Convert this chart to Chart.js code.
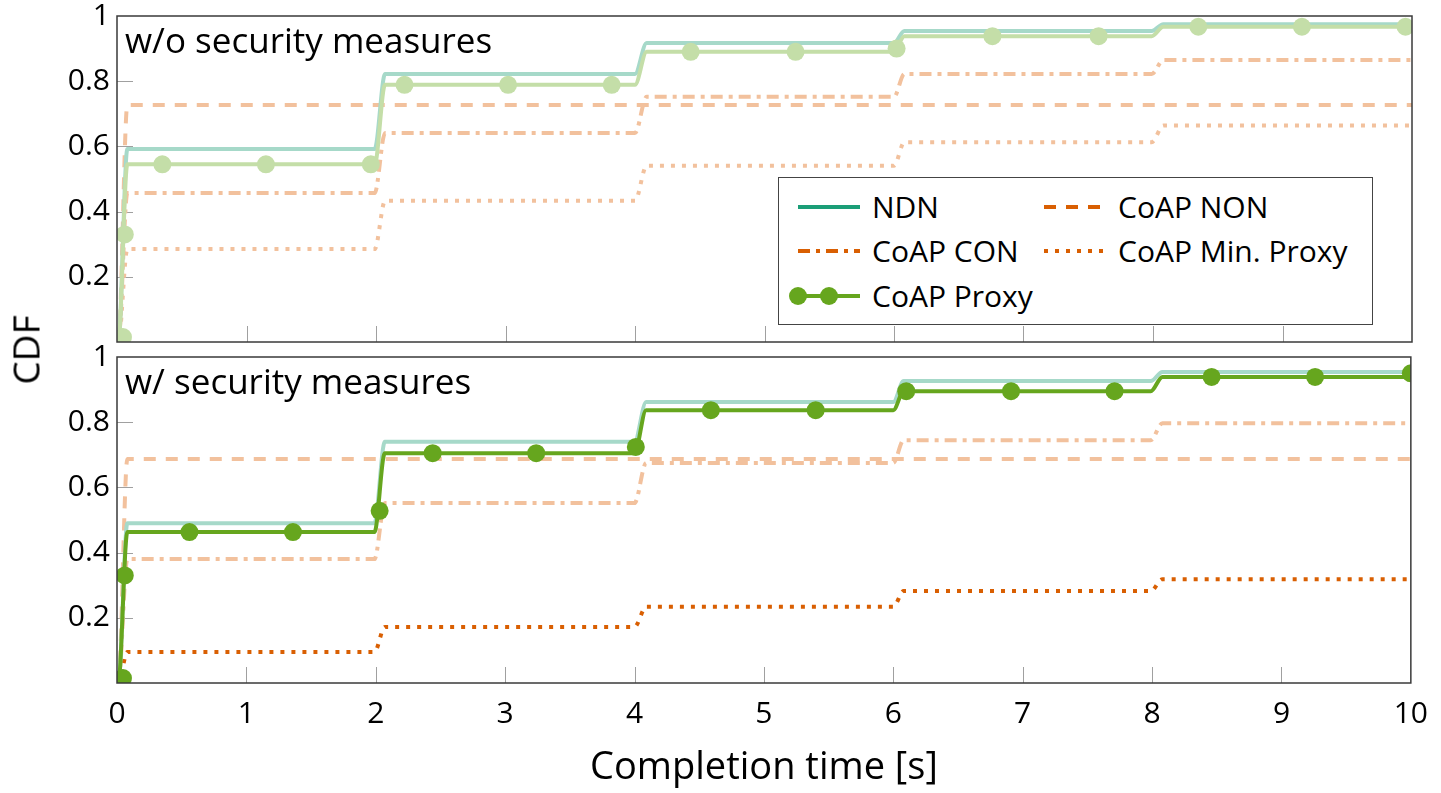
<!DOCTYPE html>
<html>
<head>
<meta charset="utf-8">
<script src="https://cdn.jsdelivr.net/npm/chart.js@4.4.1/dist/chart.umd.min.js"></script>
<style>
  html, body { margin: 0; padding: 0; background: #fff; }
  body { width: 1441px; height: 793px; position: relative; overflow: hidden; font-family: "Open Sans", sans-serif; color: #000; }
  canvas { position: absolute; left: 0; }
  #topChart { top: -20px; }
  #bottomChart { top: 320px; }
  .note { position: absolute; left: 125px; font-size: 35px; line-height: 35px; white-space: nowrap; z-index: 2; }
  #ylab { position: absolute; left: 25px; top: 350px; transform: translate(-50%, -50%) rotate(-90deg); font-size: 37px; z-index: 2; }
  #legend { position: absolute; left: 778px; top: 177px; width: 595px; height: 148px; border: 1.5px solid #444; background: #fff; box-sizing: border-box; z-index: 2; }
  .item { position: absolute; display: flex; align-items: center; font-size: 30px; line-height: 40px; white-space: nowrap; transform: translateY(-50%); }
  .item svg { margin-right: 12px; overflow: visible; }
</style>
</head>
<body>
<canvas id="topChart" width="1441" height="392"></canvas>
<canvas id="bottomChart" width="1441" height="473"></canvas>
<div class="note" style="top:22px">w/o security measures</div>
<div class="note" style="top:363px">w/ security measures</div>
<div id="ylab">CDF</div>
<div id="legend"></div>
<script>
// axis ticks
const xTicks = [0, 1, 2, 3, 4, 5, 6, 7, 8, 9, 10];
const yTicks = [0.2, 0.4, 0.6, 0.8, 1];

// where each step of the CDFs starts and ends (seconds)
const stepStart = [0.01, 1.99, 4.0, 6.0, 7.99];
const stepEnd = [0.08, 2.07, 4.09, 6.08, 8.08];

// w/o security measures: level after each step
const topNdn = [0.592, 0.822, 0.917, 0.954, 0.975];
const topNon = [0.727, 0.727, 0.727, 0.727, 0.727];
const topCon = [0.457, 0.641, 0.752, 0.822, 0.865];
const topMinProxy = [0.285, 0.433, 0.541, 0.613, 0.664];
const topProxy = [0.545, 0.789, 0.89, 0.938, 0.967];
const topProxyMarkX = [0.046, 0.06, 0.35, 1.15, 1.96, 2.22, 3.02, 3.82, 4.43, 5.24, 6.02, 6.76, 7.58, 8.35, 9.15, 9.95];
const topProxyMarkY = [0.015, 0.33, 0.545, 0.545, 0.545, 0.789, 0.789, 0.789, 0.89, 0.89, 0.9, 0.938, 0.938, 0.967, 0.967, 0.967];

// w/ security measures
const botNdn = [0.49, 0.74, 0.862, 0.926, 0.954];
const botNon = [0.687, 0.687, 0.687, 0.687, 0.687];
const botCon = [0.38, 0.552, 0.675, 0.745, 0.797];
const botMinProxy = [0.095, 0.172, 0.234, 0.282, 0.318];
const botProxy = [0.463, 0.705, 0.837, 0.895, 0.939];
const botProxyMarkX = [0.046, 0.06, 0.56, 1.36, 2.03, 2.44, 3.24, 4.01, 4.59, 5.4, 6.1, 6.91, 7.71, 8.46, 9.26, 10.0];
const botProxyMarkY = [0.015, 0.33, 0.463, 0.463, 0.528, 0.705, 0.705, 0.724, 0.837, 0.837, 0.895, 0.895, 0.895, 0.939, 0.939, 0.95];

// colours: full and faded
const teal = '#1b9e77', orange = '#d95f02', green = '#66a61e';
const tealPale = '#a6d9c9', orangePale = '#f2c19d', greenPale = '#c4dea8';
const dashed = [12, 10], dashDot = [12, 6, 4, 6], dotted = [4, 7];

Chart.defaults.font.family = '"Open Sans", sans-serif';
Chart.defaults.color = '#000';

// turn a list of levels into the vertices of a step curve
function steps(levels) {
    const pts = [{ x: 0, y: 0 }];
    levels.forEach((v, i) => {
        pts.push({ x: stepStart[i], y: i ? levels[i - 1] : 0 });
        pts.push({ x: stepEnd[i], y: v });
    });
    pts.push({ x: 10, y: levels[levels.length - 1] });
    return pts;
}

function lineSet(levels, color, dash, order) {
    return {
        data: steps(levels), showLine: true, borderColor: color, borderWidth: 4,
        borderDash: dash, pointRadius: 0, cubicInterpolationMode: 'monotone',
        fill: false, order: order, clip: 0
    };
}

function markSet(xs, ys, color, order) {
    return {
        data: xs.map((x, i) => ({ x: x, y: ys[i] })), showLine: false,
        backgroundColor: color, borderWidth: 0, pointRadius: 9, order: order, clip: 0
    };
}

// inner ticks and the box around the plot
const framePlugin = {
    id: 'frame',
    beforeDatasetsDraw(chart) {
        const { ctx, chartArea: a, scales: { x, y } } = chart;
        ctx.save();
        ctx.strokeStyle = '#a0a0a0';
        ctx.lineWidth = 1;
        ctx.beginPath();
        xTicks.slice(1, -1).forEach(v => {
            const px = Math.round(x.getPixelForValue(v)) + 0.5;
            ctx.moveTo(px, a.bottom);
            ctx.lineTo(px, a.bottom - 16);
        });
        yTicks.slice(0, -1).forEach(v => {
            const py = Math.round(y.getPixelForValue(v)) + 0.5;
            ctx.moveTo(a.left, py);
            ctx.lineTo(a.left + 16, py);
        });
        ctx.stroke();
        ctx.restore();
    },
    afterDatasetsDraw(chart) {
        const { ctx, chartArea: a } = chart;
        ctx.save();
        ctx.strokeStyle = '#3a3a3a';
        ctx.lineWidth = 1.5;
        ctx.strokeRect(a.left, a.top, a.right - a.left, a.bottom - a.top);
        ctx.restore();
    }
};

function makePanel(id, datasets, showX, padTop, xHeight) {
    return new Chart(document.getElementById(id), {
        type: 'scatter',
        data: { datasets: datasets },
        options: {
            responsive: false, animation: false, devicePixelRatio: 1,
            layout: { padding: { top: padTop, right: 29, left: 0, bottom: 0 } },
            plugins: { legend: { display: false }, tooltip: { enabled: false } },
            scales: {
                x: {
                    type: 'linear', min: 0, max: 10,
                    afterBuildTicks: s => { s.ticks = xTicks.map(v => ({ value: v })); },
                    grid: { display: false, drawTicks: false }, border: { display: false },
                    ticks: { display: showX, padding: 13, maxRotation: 0, autoSkip: false, font: { size: 30 } },
                    title: { display: showX, text: 'Completion time [s]', font: { size: 38 }, padding: { top: 0, bottom: 2 } },
                    afterFit: s => { s.height = xHeight; }
                },
                y: {
                    min: 0, max: 1,
                    afterBuildTicks: s => { s.ticks = yTicks.map(v => ({ value: v })); },
                    grid: { display: false, drawTicks: false }, border: { display: false },
                    ticks: { padding: 7, font: { size: 30 }, callback: v => String(v) },
                    afterFit: s => { s.width = 117; }
                }
            }
        },
        plugins: [framePlugin]
    });
}

makePanel('topChart', [
    markSet(topProxyMarkX, topProxyMarkY, greenPale, 0),
    lineSet(topProxy, greenPale, [], 1),
    lineSet(topNdn, tealPale, [], 2),
    lineSet(topNon, orangePale, dashed, 3),
    lineSet(topCon, orangePale, dashDot, 4),
    lineSet(topMinProxy, orangePale, dotted, 5)
], false, 36, 30);

makePanel('bottomChart', [
    markSet(botProxyMarkX, botProxyMarkY, green, 0),
    lineSet(botProxy, green, [], 1),
    lineSet(botNdn, tealPale, [], 2),
    lineSet(botMinProxy, orange, dotted, 3),
    lineSet(botNon, orangePale, dashed, 4),
    lineSet(botCon, orangePale, dashDot, 5)
], true, 37, 110);

// legend: two columns, three rows
const legendItems = [
    { label: 'NDN', color: teal, dash: [], left: 19, top: 29 },
    { label: 'CoAP NON', color: orange, dash: dashed, left: 265, top: 29 },
    { label: 'CoAP CON', color: orange, dash: dashDot, left: 19, top: 73 },
    { label: 'CoAP Min. Proxy', color: orange, dash: dotted, left: 265, top: 73 },
    { label: 'CoAP Proxy', color: green, dash: [], left: 19, top: 118, marks: true }
];
const legend = document.getElementById('legend');
legendItems.forEach(it => {
    const div = document.createElement('div');
    div.className = 'item';
    div.style.left = it.left + 'px';
    div.style.top = it.top + 'px';
    let svg = `<svg width="62" height="20"><line x1="0" y1="10" x2="62" y2="10" stroke="${it.color}" stroke-width="4" stroke-dasharray="${it.dash.join(' ')}"/>`;
    if (it.marks) svg += `<circle cx="0" cy="10" r="9" fill="${it.color}"/><circle cx="31" cy="10" r="9" fill="${it.color}"/>`;
    svg += '</svg>';
    div.innerHTML = svg + `<span>${it.label}</span>`;
    legend.appendChild(div);
});
</script>
</body>
</html>
